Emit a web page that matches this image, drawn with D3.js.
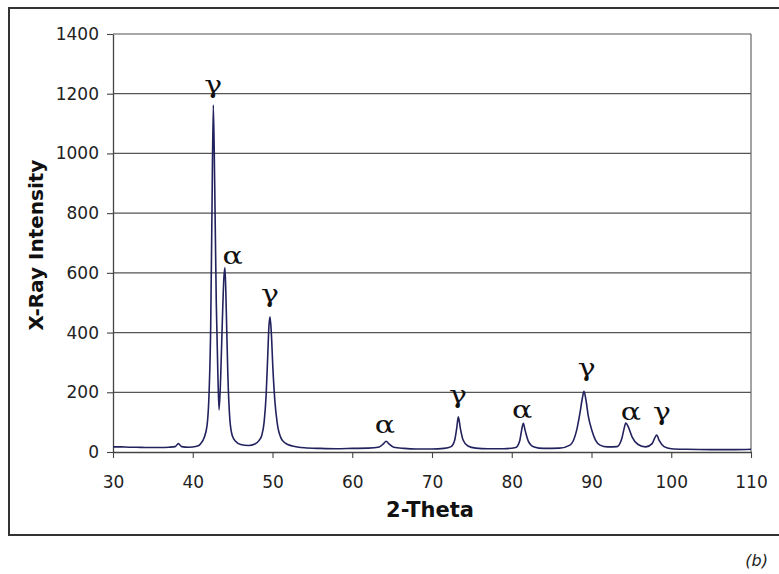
<!DOCTYPE html>
<html>
<head>
<meta charset="utf-8">
<script src="https://cdn.jsdelivr.net/npm/d3@7"></script>
<style>
  body { margin: 0; background: #fff; }
  svg { display: block; }
</style>
</head>
<body>
<div id="chart"></div>
<script>
// 2-theta positions and the intensity
const twoTheta = [
  30, 31, 32, 33, 34, 35, 36, 37, 37.8, 38.2, 38.6, 39.5, 40.5, 41, 41.4, 41.8,
  42.05, 42.25, 42.4, 42.58, 42.75, 42.95, 43.15, 43.3, 43.5, 43.7, 43.9, 44.04,
  44.2, 44.4, 44.65, 44.95, 45.4, 46, 47, 47.8, 48.3, 48.65, 48.95, 49.2, 49.4,
  49.55, 49.69, 49.85, 50.05, 50.3, 50.6, 51.1, 51.6, 52.5, 54, 56, 58, 60, 62,
  63.4, 63.9, 64.25, 64.6, 65.2, 66.5, 68, 70, 71.5, 72.4, 72.85, 73.1, 73.3,
  73.55, 73.9, 74.5, 75.5, 77, 79, 80.5, 81.0, 81.25, 81.45, 81.7, 82.1, 82.8,
  84, 86, 87.3, 88.15, 88.55, 88.85, 89.06, 89.3, 89.6, 90.03, 90.5, 91.07, 92,
  93.2, 93.8, 94.1, 94.3, 94.6, 95.1, 95.8, 96.8, 97.6, 97.95, 98.17, 98.5,
  99.1, 100, 102, 105, 108, 110
];
const intensity = [
  17, 17, 16, 16, 15, 15, 15, 16, 18, 28, 18, 16, 19, 28, 46, 90,
  200, 420, 780, 1162, 900, 500, 260, 141, 250, 430, 580, 618,
  480, 260, 110, 55, 35, 25, 22, 27, 38, 55, 100, 190, 320,
  420, 453, 400, 280, 170, 95, 45, 30, 20, 14, 12, 11, 12, 13,
  17, 27, 36, 27, 16, 12, 10, 10, 12, 18, 40, 80, 118,
  80, 40, 20, 13, 11, 11, 15, 38, 75, 96, 70, 35, 17,
  12, 13, 23, 74, 130, 180, 203, 175, 120, 74, 40, 23, 17,
  18, 45, 80, 97, 85, 50, 26, 17, 28, 48, 57, 38,
  18, 11, 9, 8, 8, 9
];

// phase labels: centre 2-theta, baseline intensity, text
const labelTheta = [42.55, 45.0, 49.69, 64.1, 73.26, 81.3, 89.4, 94.95, 98.84];
const labelIntensity = [1202, 630, 502, 64, 164, 114, 255, 107, 107];
const labelText = ["γ", "α", "γ", "α", "γ", "α", "γ", "α", "γ"];

const xTicks = [30, 40, 50, 60, 70, 80, 90, 100, 110];
const yTicks = [0, 200, 400, 600, 800, 1000, 1200, 1400];

const width = 779, height = 574;

const svg = d3.select("#chart")
  .append("svg")
  .attr("width", width)
  .attr("height", height);

// outer frame
svg.append("rect")
  .attr("x", 9).attr("y", 8)
  .attr("width", 790).attr("height", 527)
  .attr("fill", "none")
  .attr("stroke", "#333")
  .attr("stroke-width", 2);

const x = d3.scaleLinear().domain([30, 110]).range([113, 751]);
const y = d3.scaleLinear().domain([0, 1400]).range([452, 34]);

// gridlines
svg.append("g")
  .selectAll("line")
  .data(yTicks.slice(1))
  .enter().append("line")
  .attr("x1", x(30)).attr("x2", x(110))
  .attr("y1", d => y(d)).attr("y2", d => y(d))
  .attr("stroke", "#555")
  .attr("stroke-width", 1.2);

// right border of the plot area
svg.append("line")
  .attr("x1", x(110)).attr("x2", x(110))
  .attr("y1", y(0)).attr("y2", y(1400))
  .attr("stroke", "#666")
  .attr("stroke-width", 1.2);

const yAxis = d3.axisLeft(y)
  .tickValues(yTicks)
  .tickFormat(d3.format("d"))
  .tickSize(6)
  .tickSizeOuter(0)
  .tickPadding(8);

const xAxis = d3.axisBottom(x)
  .tickValues(xTicks)
  .tickFormat(d3.format("d"))
  .tickSize(6)
  .tickSizeOuter(0)
  .tickPadding(18);

const gy = svg.append("g")
  .attr("transform", `translate(${x(30)},0)`)
  .call(yAxis);

const gx = svg.append("g")
  .attr("transform", `translate(0,${y(0)})`)
  .call(xAxis);

[gx, gy].forEach(g => {
  g.select(".domain").attr("stroke", "#444").attr("stroke-width", 1.3);
  g.selectAll(".tick line").attr("stroke", "#444").attr("stroke-width", 1.1);
  g.selectAll(".tick text")
    .attr("fill", "#222")
    .style("font-family", "'DejaVu Sans', sans-serif")
    .style("font-size", "17px");
});

// the pattern
const points = twoTheta.map((t, i) => [t, intensity[i]]);

const line = d3.line()
  .x(d => x(d[0]))
  .y(d => y(d[1]))
  .curve(d3.curveMonotoneX);

svg.append("path")
  .datum(points)
  .attr("d", line)
  .attr("fill", "none")
  .attr("stroke", "#22225e")
  .attr("stroke-width", 1.6)
  .attr("stroke-linejoin", "round");

// phase labels
svg.append("g")
  .selectAll("text")
  .data(labelText)
  .enter().append("text")
  .attr("transform", (d, i) => `translate(${x(labelTheta[i])},${y(labelIntensity[i])}) scale(1.25,1)`)
  .attr("text-anchor", "middle")
  .style("font-family", "'DejaVu Serif', serif")
  .style("font-size", "24px")
  .attr("fill", "#111")
  .text(d => d);

// axis titles
svg.append("text")
  .attr("x", 430).attr("y", 517)
  .attr("text-anchor", "middle")
  .style("font-family", "'DejaVu Sans', sans-serif")
  .style("font-weight", "bold")
  .style("font-size", "21px")
  .attr("fill", "#111")
  .text("2-Theta");

svg.append("text")
  .attr("transform", "translate(43,245) rotate(-90)")
  .attr("text-anchor", "middle")
  .style("font-family", "'DejaVu Sans', sans-serif")
  .style("font-weight", "bold")
  .style("font-size", "20px")
  .attr("fill", "#111")
  .text("X-Ray Intensity");

svg.append("text")
  .attr("x", 768).attr("y", 566)
  .attr("text-anchor", "end")
  .style("font-family", "'DejaVu Sans', sans-serif")
  .style("font-style", "italic")
  .style("font-size", "16px")
  .attr("fill", "#222")
  .text("(b)");
</script>
</body>
</html>
